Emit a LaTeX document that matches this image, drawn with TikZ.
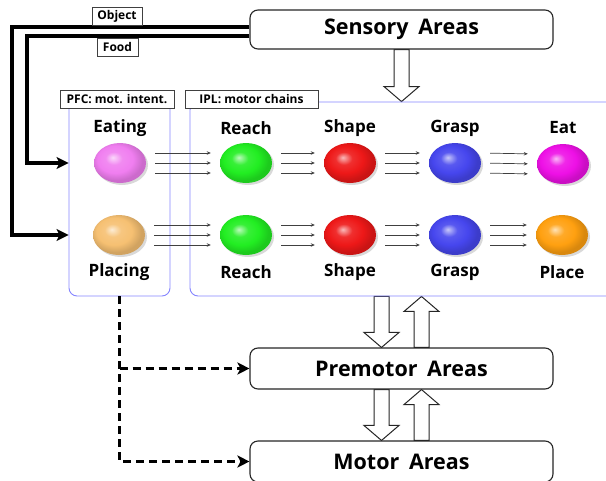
\documentclass[tikz,border=0pt]{standalone}
\usepackage{fontspec}
\setmainfont{Open Sans}
\usetikzlibrary{shapes.geometric,arrows.meta,calc,shadows,backgrounds}

\definecolor{blueline}{HTML}{8484FF}
\definecolor{cEating}{HTML}{F07EF0}
\definecolor{cReach}{HTML}{22EE22}
\definecolor{cShape}{HTML}{EE1818}
\definecolor{cGrasp}{HTML}{4646EE}
\definecolor{cEat}{HTML}{EE10E6}
\definecolor{cPlacing}{HTML}{F6C072}
\definecolor{cPlace}{HTML}{FFA010}
\colorlet{ballc}{red}
\pgfdeclareradialshading[ballc]{myball}{\pgfpoint{-7bp}{7bp}}{%
 color(0bp)=(ballc!30!white); color(8bp)=(ballc!90!white); color(17bp)=(ballc); color(25bp)=(ballc!85!black); color(50bp)=(ballc!85!black)}

\newcommand{\blockarr}[2]{%
 \coordinate (bh) at ($(#2)!15pt!(#1)$);
 \draw[blockstyle] ($(#1)!7.5pt!90:(#2)$) -- ($(bh)!7.5pt!-90:(#1)$) -- ($(bh)!17.5pt!-90:(#1)$) -- (#2) -- ($(bh)!17.5pt!90:(#1)$) -- ($(bh)!7.5pt!90:(#1)$) -- ($(#1)!7.5pt!-90:(#2)$) -- cycle;}

\newcommand{\triarr}[2]{%
 \foreach \d in {-10,0,10}{\draw[tri] ([yshift=\d pt]#1.east) -- ([yshift=\d pt]#2.west);}}

\tikzset{
 area/.style={draw=black!85, line width=1.1pt, rounded corners=8pt, fill=white, minimum width=303pt, inner sep=0pt, font=\fontsize{21.5}{25}\selectfont\bfseries},
 tagbox/.style={draw=black!75, line width=0.8pt, fill=white, inner sep=2.5pt, minimum height=18pt, font=\fontsize{12}{14}\selectfont\bfseries},
 bluebox/.style={draw=blueline, line width=0.9pt, rounded corners=8pt, inner sep=0pt},
 ball/.style={ellipse, minimum width=52pt, minimum height=40pt, inner sep=0pt, /utils/exec={\colorlet{ballc}{#1}}, shade, shading=myball, drop shadow={shadow xshift=2pt, shadow yshift=-2pt, opacity=0.3}},
 lbl/.style={font=\fontsize{17}{20}\selectfont\bfseries, inner sep=0pt},
 tri/.style={line width=0.7pt, draw=black!75, shorten <=9pt, shorten >=9pt, -{Stealth[length=4pt,width=3.5pt]}},
 blockstyle/.style={draw=black!85, line width=1pt, fill=white, line join=miter},
 thickarr/.style={line width=3.3pt, line join=miter, -{Stealth[length=12pt,width=12pt,inset=3pt]}},
 dasharr/.style={line width=2.6pt, dash pattern=on 8pt off 5pt, -{Stealth[length=12pt,width=12pt,inset=3pt]}},
}

\begin{document}
\begin{tikzpicture}[x=1pt,y=-1pt]
\useasboundingbox (0,0) rectangle (606,480);

% area boxes
\node[area, minimum height=39pt] (sens) at (401.5,29.5) {Sensory\hspace{0.45em}Areas};
\node[area, minimum height=41pt] (premotor) at (401.5,368.5) {Premotor\hspace{0.45em}Areas};
\node[area, minimum height=41pt] (motor) at (401.5,461.5) {Motor\hspace{0.45em}Areas};

% blue containers
\node[bluebox, minimum width=101pt, minimum height=196pt] (pfc) at (119.5,198) {};
\node[bluebox, minimum width=425pt, minimum height=194pt] (ipl) at (402.5,199) {};
\node[tagbox, minimum width=114pt] (pfcL) at (117,99) {PFC: mot. intent.};
\node[tagbox, minimum width=133pt] (iplL) at (251.5,99) {IPL: motor chains};

% ellipses
\node[ball=cEating] (eating) at (120,163) {};
\node[ball=cReach] (reach1) at (246,163) {};
\node[ball=cShape] (shape1) at (350,163) {};
\node[ball=cGrasp] (grasp1) at (455,163) {};
\node[ball=cEat] (eat) at (563,164) {};
\node[ball=cPlacing] (placing) at (119,235) {};
\node[ball=cReach] (reach2) at (246,235) {};
\node[ball=cShape] (shape2) at (350,235) {};
\node[ball=cGrasp] (grasp2) at (455,235) {};
\node[ball=cPlace] (place) at (562,235) {};

% labels
\node[lbl] (tEating) at (120,128) {Eating};
\node[lbl] (tReach1) at (246,128) {Reach};
\node[lbl] (tShape1) at (350,128) {Shape};
\node[lbl] (tGrasp1) at (455,128) {Grasp};
\node[lbl] (tEat) at (563,128) {Eat};
\node[lbl] (tPlacing) at (119,272) {Placing};
\node[lbl] (tReach2) at (246,272) {Reach};
\node[lbl] (tShape2) at (350,272) {Shape};
\node[lbl] (tGrasp2) at (455,272) {Grasp};
\node[lbl] (tPlace) at (562,272) {Place};

% chain arrows
\triarr{eating}{reach1}
\triarr{reach1}{shape1}
\triarr{shape1}{grasp1}
\triarr{grasp1}{eat}
\triarr{placing}{reach2}
\triarr{reach2}{shape2}
\triarr{shape2}{grasp2}
\triarr{grasp2}{place}

% block arrows
\coordinate (pmL) at ([xshift=-20pt]premotor.north);
\coordinate (pmR) at ([xshift=20pt]premotor.north);
\coordinate (mL) at ([xshift=-20pt]motor.north);
\coordinate (mR) at ([xshift=20pt]motor.north);
\begin{scope}[on background layer]
\blockarr{sens.south}{sens.south |- ipl.north}
\blockarr{pmL |- ipl.south}{pmL}
\blockarr{pmR}{pmR |- ipl.south}
\blockarr{mL |- premotor.south}{mL}
\blockarr{mR}{mR |- premotor.south}
\end{scope}

% Object / Food lines
\coordinate (o1) at (12,27);
\coordinate (f1) at (27,36);
\draw[thickarr] ([yshift=2.5pt]sens.west) -- (o1) |- (pfc.west |- placing);
\draw[thickarr] ([yshift=-6.5pt]sens.west) -- (f1) |- (pfc.west |- eating);
\node[tagbox, anchor=south, minimum width=50pt] (objL) at (117,25.3) {Object};
\node[tagbox, anchor=north, minimum width=41pt] (foodL) at (117.5,37.7) {Food};

% dashed
\draw[dasharr] (pfc.south) |- (motor.west);
\draw[dasharr] (pfc.south |- premotor.west) -- (premotor.west);
\end{tikzpicture}
\end{document}
